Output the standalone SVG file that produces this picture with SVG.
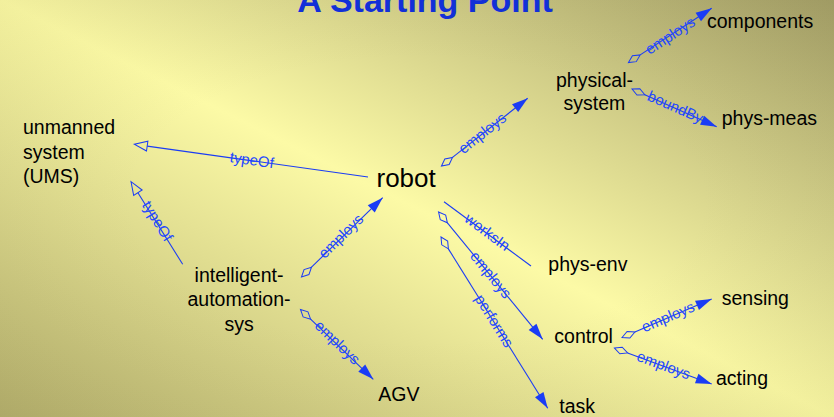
<svg xmlns="http://www.w3.org/2000/svg" width="834" height="417" viewBox="0 0 834 417">
<defs>
<linearGradient id="bg" x1="0" y1="1" x2="1" y2="0">
<stop offset="0" stop-color="#b2ad6c"/>
<stop offset="0.5" stop-color="#fcfaa6"/>
<stop offset="1" stop-color="#a29d67"/>
</linearGradient>
<radialGradient id="vig" cx="0.5" cy="0.48" r="0.75">
<stop offset="0.45" stop-color="#8a8440" stop-opacity="0"/>
<stop offset="1" stop-color="#8a8440" stop-opacity="0.1"/>
</radialGradient>
<marker id="arrow" markerUnits="userSpaceOnUse" markerWidth="17" markerHeight="11" refX="16" refY="5" orient="auto" overflow="visible">
<path d="M0,0 L16,5 L0,10 Z" fill="#1a3cf5"/>
</marker>
<marker id="tri" markerUnits="userSpaceOnUse" markerWidth="14" markerHeight="11" refX="0" refY="5" orient="auto" overflow="visible">
<path d="M0,0 L13,5 L0,10 Z" fill="none" stroke="#1a3cf5" stroke-width="1"/>
</marker>
<marker id="dia" markerUnits="userSpaceOnUse" markerWidth="15" markerHeight="9" refX="14" refY="4" orient="auto" overflow="visible">
<path d="M0,4 L7,0.5 L14,4 L7,7.5 Z" fill="none" stroke="#1a3cf5" stroke-width="1"/>
</marker>
</defs>
<style>
.node{font-family:"Liberation Sans",Arial,sans-serif;font-size:19.5px;fill:#000}
.c{stroke:#1a3cf5;stroke-width:1.1;fill:none}
.lbl{font-family:"Liberation Sans",Arial,sans-serif;font-size:15px;fill:#2448ff;text-anchor:middle}
</style>
<rect width="834" height="417" fill="url(#bg)"/>
<rect width="834" height="417" fill="url(#vig)"/>
<text x="425" y="12" text-anchor="middle" style="font-family:'Liberation Sans',Arial,sans-serif;font-size:34px;font-weight:bold;fill:#1230d8">A Starting Point</text>

<g id="connectors">
<line class="c" x1="368" y1="177" x2="147.2" y2="146.1" marker-end="url(#tri)"/>
<line class="c" x1="182.7" y1="264.3" x2="137.9" y2="192.7" marker-end="url(#tri)"/>
<line class="c" x1="311.5" y1="267.2" x2="382.7" y2="197.7" marker-start="url(#dia)" marker-end="url(#arrow)"/>
<line class="c" x1="310.6" y1="319.2" x2="373.3" y2="379.3" marker-start="url(#dia)" marker-end="url(#arrow)"/>
<line class="c" x1="452.5" y1="157.4" x2="527.7" y2="98.3" marker-start="url(#dia)" marker-end="url(#arrow)"/>
<line class="c" x1="640.2" y1="54.9" x2="711.7" y2="8.3" marker-start="url(#dia)" marker-end="url(#arrow)"/>
<line class="c" x1="644.8" y1="94.7" x2="716.7" y2="126.7" marker-start="url(#dia)" marker-end="url(#arrow)"/>
<line class="c" x1="444" y1="201.7" x2="531" y2="266"/>
<line class="c" x1="447.4" y1="222.8" x2="542.7" y2="339.3" marker-start="url(#dia)" marker-end="url(#arrow)"/>
<line class="c" x1="448.4" y1="248.9" x2="547.7" y2="408.3" marker-start="url(#dia)" marker-end="url(#arrow)"/>
<line class="c" x1="634.9" y1="332" x2="711.7" y2="299" marker-start="url(#dia)" marker-end="url(#arrow)"/>
<line class="c" x1="627.6" y1="352.9" x2="711.7" y2="384" marker-start="url(#dia)" marker-end="url(#arrow)"/>

<text class="lbl" transform="translate(251.7,161.2) rotate(8)" y="4">typeOf</text>
<text class="lbl" transform="translate(156.7,221.7) rotate(58)" y="4">typeOf</text>
<text class="lbl" transform="translate(341.7,236.9) rotate(-44.3)" y="4">employs</text>
<text class="lbl" transform="translate(336.7,343.3) rotate(43.8)" y="4">employs</text>
<text class="lbl" transform="translate(483,134) rotate(-38.1)" y="4">employs</text>
<text class="lbl" transform="translate(670.7,36.5) rotate(-33.1)" y="4">employs</text>
<text class="lbl" transform="translate(675,108) rotate(23.9)" y="4">boundBy</text>
<text class="lbl" transform="translate(486.7,233) rotate(36.5)" y="4">worksIn</text>
<text class="lbl" transform="translate(490,275.5) rotate(50.7)" y="4">employs</text>
<text class="lbl" transform="translate(493.3,321.5) rotate(58.1)" y="4">performs</text>
<text class="lbl" transform="translate(668.3,317.8) rotate(-23.2)" y="4">employs</text>
<text class="lbl" transform="translate(663.3,366.2) rotate(20.3)" y="4">employs</text>
</g>

<g id="ums"><text class="node" x="23" y="134">unmanned</text><text class="node" x="23" y="158.5">system</text><text class="node" x="23" y="183">(UMS)</text></g>
<g id="robot"><text class="node" x="376.5" y="187" style="font-size:26px">robot</text></g>
<g id="intelligent-automation-sys"><text class="node" text-anchor="middle" x="239" y="281.7">intelligent-</text><text class="node" text-anchor="middle" x="239" y="306">automation-</text><text class="node" text-anchor="middle" x="239" y="331">sys</text></g>
<g id="agv"><text class="node" x="378.3" y="400.7">AGV</text></g>
<g id="physical-system"><text class="node" text-anchor="middle" x="594.5" y="87">physical-</text><text class="node" text-anchor="middle" x="594.5" y="109.5">system</text></g>
<g id="components"><text class="node" x="707" y="27.5">components</text></g>
<g id="phys-meas"><text class="node" x="721.7" y="124.5">phys-meas</text></g>
<g id="phys-env"><text class="node" x="548.3" y="271">phys-env</text></g>
<g id="control"><text class="node" x="554.3" y="342.5">control</text></g>
<g id="sensing"><text class="node" x="721.7" y="305">sensing</text></g>
<g id="acting"><text class="node" x="716" y="384.5">acting</text></g>
<g id="task"><text class="node" x="559.3" y="412.7">task</text></g>
</svg>
